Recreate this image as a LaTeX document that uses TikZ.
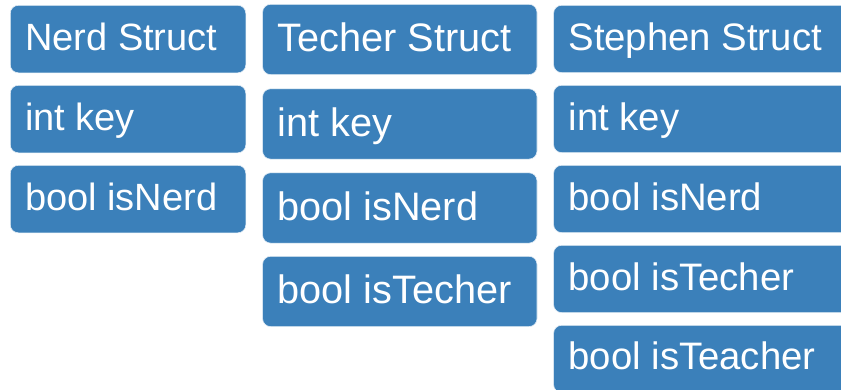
\documentclass[tikz,border=0pt]{standalone}
\usepackage{fontspec}
\setmainfont{Liberation Sans}
\definecolor{boxblue}{HTML}{3B80BA}
\tikzset{
  fieldbox/.style={fill=boxblue, draw=white!85!boxblue, line width=0.6pt, rounded corners=8pt, inner sep=0pt, anchor=north west},
  fieldtext/.style={text=white, inner sep=0pt, anchor=base west}
}
% #1 name, #2 left, #3 top, #4 width, #5 height, #6 baseline offset, #7 font size, #8 text
\newcommand\fieldrow[8]{%
  \node[fieldbox, minimum width=#4pt, minimum height=#5pt] (#1) at (#2,#3) {};
  \node[fieldtext, font=\fontsize{#7}{#7}\selectfont] (#1t) at ([xshift=15pt,yshift=-#6pt]#1.north west) {#8};
}
\begin{document}
\begin{tikzpicture}[x=1pt,y=-1pt]
\useasboundingbox (0,0) rectangle (841,389);
\clip (0,0) rectangle (841,389);
% column 1
\fieldrow{n1}{10}{5}{235.5}{67.5}{45.8}{38}{Nerd Struct}
\fieldrow{n2}{10}{85}{235.5}{67.5}{45.8}{38}{int key}
\fieldrow{n3}{10}{165}{235.5}{67.5}{45.5}{38}{bool isNerd}
% column 2
\fieldrow{t1}{262.3}{4}{274.4}{70.3}{47.6}{39.7}{Techer Struct}
\fieldrow{t2}{262.3}{88.5}{274.4}{70.3}{47.6}{39.7}{int key}
\fieldrow{t3}{262.3}{172.5}{274.4}{70.3}{47.5}{39.7}{bool isNerd}
\fieldrow{t4}{262.3}{256}{274.4}{70.3}{47.3}{39.7}{bool isTecher}
% column 3
\fieldrow{s1}{553.3}{5}{300}{67.3}{45}{38.3}{Stephen Struct}
\fieldrow{s2}{553.3}{85}{300}{67.3}{45}{38.3}{int key}
\fieldrow{s3}{553.3}{165}{300}{67.3}{45}{38.3}{bool isNerd}
\fieldrow{s4}{553.3}{245}{300}{67.3}{45}{38.3}{bool isTecher}
\fieldrow{s5}{553.3}{325}{300}{67.3}{44.5}{38.3}{bool isTeacher}
\end{tikzpicture}
\end{document}
